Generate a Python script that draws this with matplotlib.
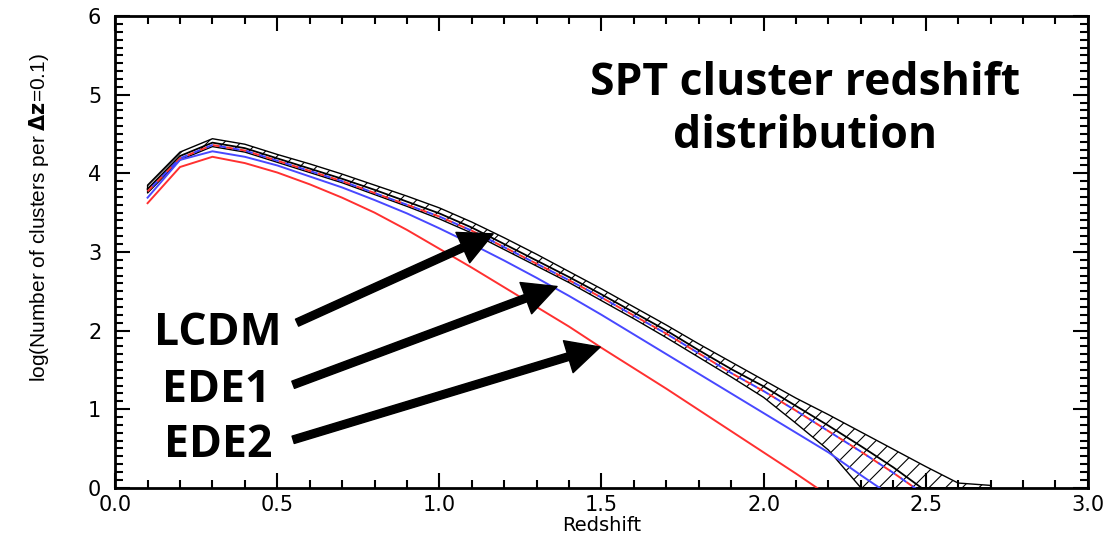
import numpy as np
import matplotlib
matplotlib.use("Agg")
import matplotlib.pyplot as plt
from matplotlib.ticker import MultipleLocator, FormatStrFormatter

# Redshift bins
z = [0.1, 0.2, 0.3, 0.4, 0.5, 0.6, 0.7, 0.8, 0.9, 1.0, 1.1, 1.2, 1.3,
     1.4, 1.5, 1.6, 1.7, 1.8, 1.9, 2.0, 2.1, 2.2, 2.3, 2.4, 2.5]

# LCDM (black) with its uncertainty band
lcdm = [3.80, 4.22, 4.39, 4.32, 4.19, 4.06, 3.93, 3.79, 3.64, 3.49, 3.31, 3.10, 2.89,
        2.68, 2.46, 2.23, 2.00, 1.75, 1.51, 1.29, 1.04, 0.79, 0.53, 0.26, -0.04]
band_z = [0.1, 0.2, 0.3, 0.4, 0.5, 0.6, 0.7, 0.8, 0.9, 1.0, 1.1, 1.2, 1.3,
          1.4, 1.5, 1.6, 1.7, 1.8, 1.9, 2.0, 2.1, 2.2, 2.3, 2.4, 2.5, 2.6, 2.7]
band_hi = [3.85, 4.27, 4.44, 4.37, 4.24, 4.12, 3.99, 3.85, 3.71, 3.56, 3.38, 3.18, 2.97,
           2.75, 2.53, 2.30, 2.07, 1.83, 1.60, 1.37, 1.14, 0.93, 0.71, 0.49, 0.27, 0.06, 0.03]
band_lo = [3.75, 4.17, 4.34, 4.27, 4.14, 4.01, 3.88, 3.73, 3.58, 3.42, 3.24, 3.03, 2.82,
           2.61, 2.38, 2.15, 1.91, 1.66, 1.41, 1.15, 0.82, 0.48, 0.0, 0.0, 0.0, 0.0, 0.0]

# dashed curves inside the band
red_dash = [3.77, 4.19, 4.36, 4.29, 4.16, 4.03, 3.90, 3.75, 3.60, 3.45, 3.27, 3.06, 2.85,
            2.64, 2.42, 2.19, 1.96, 1.71, 1.46, 1.23, 0.98, 0.72, 0.46, 0.19, -0.10]
blue_dash = red_dash

# EDE1 (blue) and EDE2 (red)
ede1 = [3.69, 4.17, 4.28, 4.21, 4.10, 3.96, 3.82, 3.66, 3.49, 3.30, 3.10, 2.89, 2.67,
        2.44, 2.20, 1.95, 1.70, 1.45, 1.20, 0.95, 0.70, 0.45, 0.16, -0.12]
ede2 = [3.62, 4.08, 4.21, 4.13, 4.01, 3.86, 3.69, 3.50, 3.28, 3.04, 2.80, 2.55, 2.30,
        2.05, 1.78, 1.52, 1.26, 0.99, 0.72, 0.45, 0.18, -0.10]

labels = ["LCDM", "EDE1", "EDE2"]
label_x = [0.195, 0.193, 0.195]          # figure fraction
label_y = [0.356, 0.250, 0.147]
arrow_tails = [(0.561, 2.10), (0.549, 1.31), (0.549, 0.61)]
arrow_tips = [(1.166, 3.23), (1.363, 2.56), (1.496, 1.79)]

plt.rcParams['hatch.linewidth'] = 0.8

fig = plt.figure(figsize=(11.18, 5.36), dpi=100)
ax = fig.add_axes([0.103, 0.09, 0.870, 0.880])

ax.fill_between(band_z, band_lo, band_hi, facecolor="white", edgecolor="black",
                hatch="//", linewidth=1.0, zorder=1)
ax.plot(z, lcdm, color="black", lw=1.3, zorder=2)
ax.plot(z, red_dash, color="#ff3030", lw=1.4, ls=(0, (4, 3)), zorder=3)
ax.plot(z, blue_dash, color="#4040ff", lw=1.4, ls=(3.5, (3.5, 3.5)), zorder=3)
ax.plot(z[:len(ede1)], ede1, color="#4848ff", lw=1.4, zorder=3)
ax.plot(z[:len(ede2)], ede2, color="#ff3030", lw=1.4, zorder=3)

ax.set_xlim(0, 3)
ax.set_ylim(0, 6)
ax.xaxis.set_major_locator(MultipleLocator(0.5))
ax.xaxis.set_minor_locator(MultipleLocator(0.1))
ax.yaxis.set_major_locator(MultipleLocator(1))
ax.yaxis.set_minor_locator(MultipleLocator(0.1))
ax.xaxis.set_major_formatter(FormatStrFormatter("%.1f"))
ax.tick_params(which="both", direction="in", top=True, right=True, width=1.5,
               labelsize=15)
ax.tick_params(which="major", length=11)
ax.tick_params(which="minor", length=6)
ax.tick_params(axis="x", pad=5)
ax.tick_params(axis="y", pad=10)
for sp in ax.spines.values():
    sp.set_linewidth(2)

ax.set_xlabel("Redshift", fontsize=14, labelpad=1)
ax.set_ylabel("log(Number of clusters per $\\mathbf{\\Delta z}$=0.1)",
              fontsize=15, family=["Liberation Sans Narrow", "Liberation Sans"])
ax.yaxis.set_label_coords(-0.066, 0.572)

fig.text(0.720, 0.823, "SPT cluster redshift", ha="center", va="baseline",
         fontsize=32, fontweight="bold", family="Open Sans")
fig.text(0.720, 0.724, "distribution", ha="center", va="baseline",
         fontsize=32, fontweight="bold", family="Open Sans")

for lab, lx, ly, tail, tip in zip(labels, label_x, label_y, arrow_tails, arrow_tips):
    fig.text(lx, ly, lab, ha="center", va="baseline", fontsize=32,
             fontweight="bold", family="Open Sans")
    ax.annotate("", xy=tip, xytext=tail,
                arrowprops=dict(facecolor="black", edgecolor="black",
                                width=5.5, headwidth=24, headlength=24, shrink=0),
                zorder=5)

fig.savefig("out.png", dpi=100)
